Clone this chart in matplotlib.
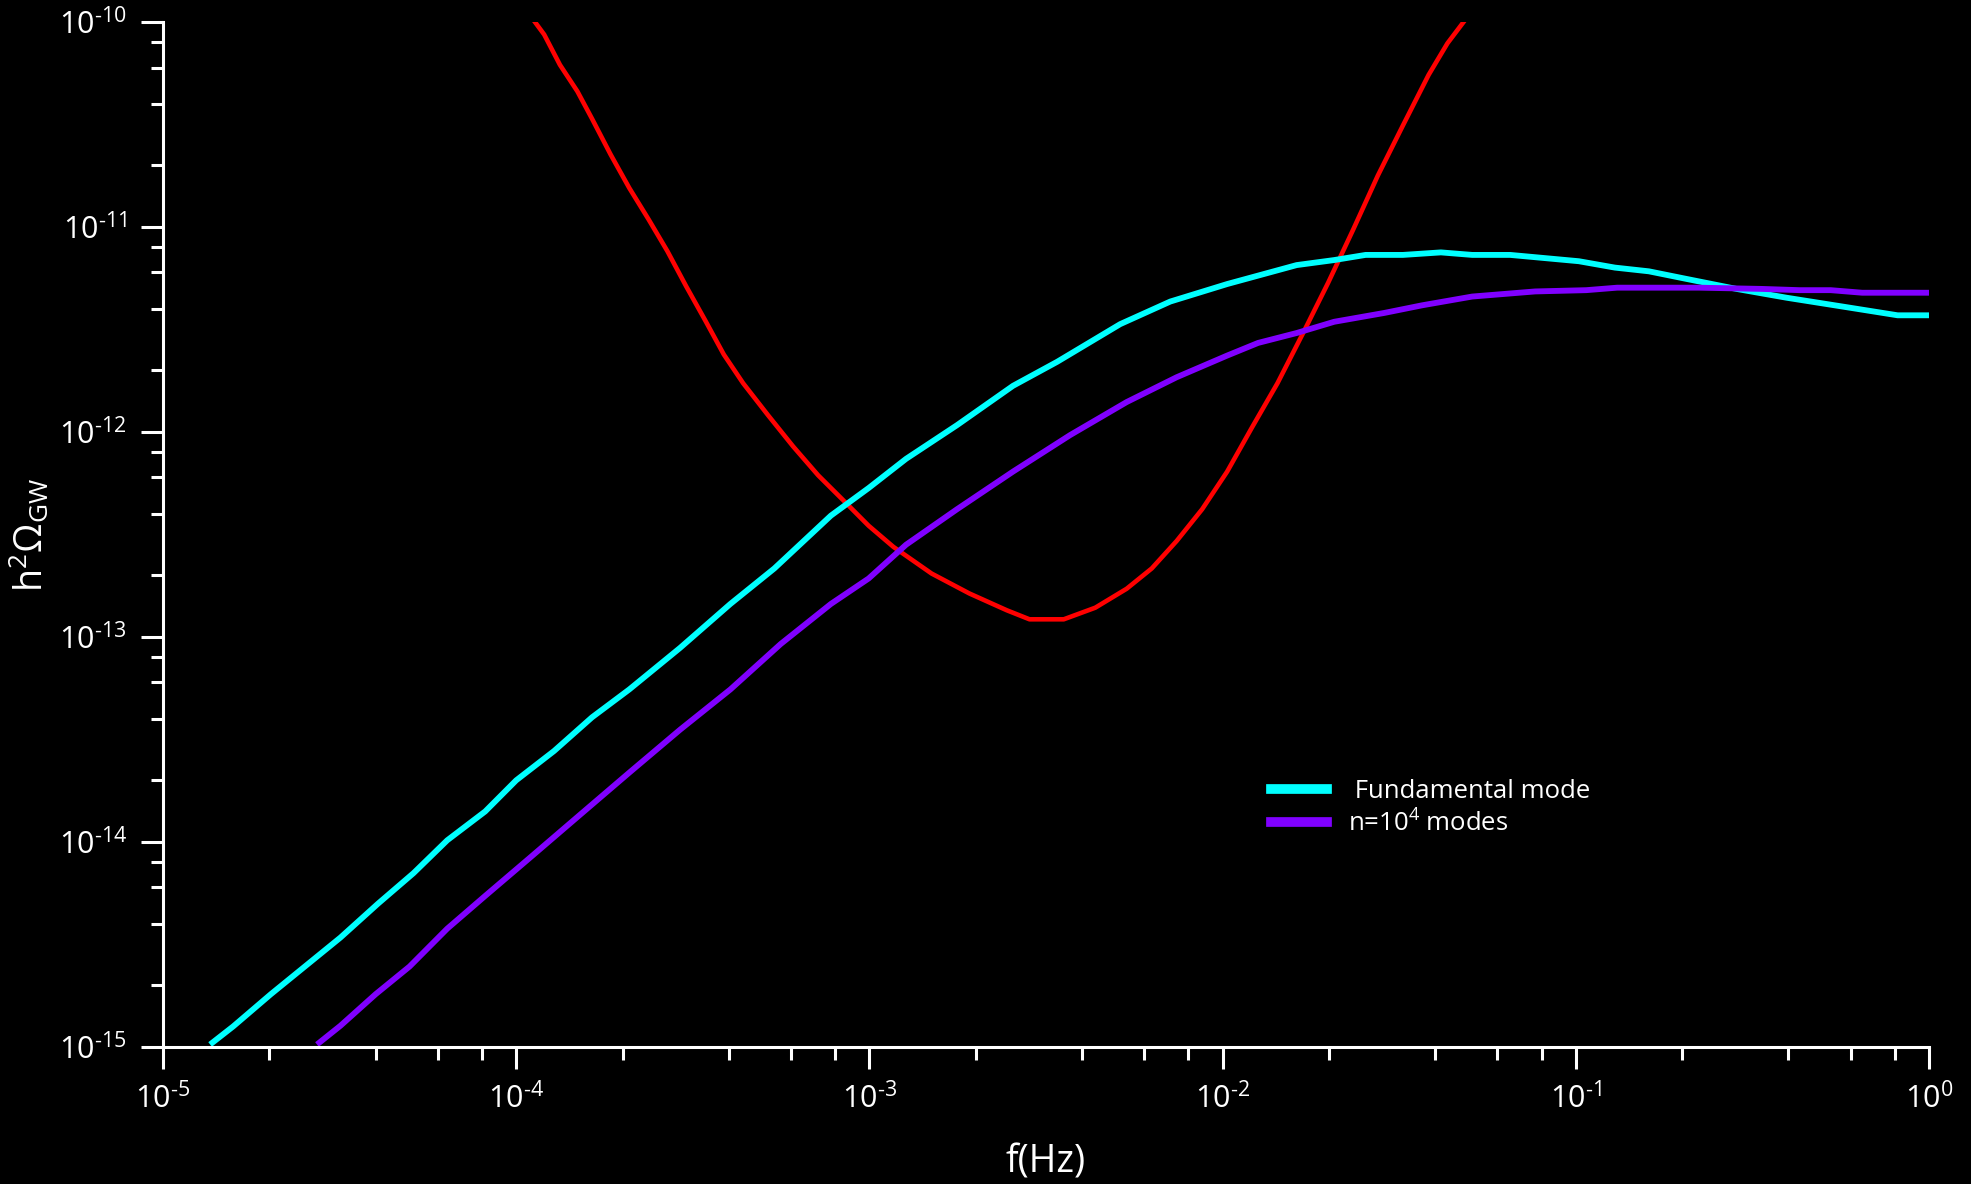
import numpy as np
import matplotlib
matplotlib.use("Agg")
import matplotlib.pyplot as plt
from matplotlib.ticker import LogLocator, FuncFormatter, NullFormatter

# Fundamental mode
f_fund = [1.38e-5, 1.58e-5, 2.02e-5, 3.18e-5, 4.06e-5, 5.12e-5, 6.38e-5, 8.17e-5, 1.0e-4,
          1.28e-4, 1.64e-4, 2.09e-4, 2.91e-4, 4.04e-4, 5.38e-4, 7.78e-4, 9.95e-4, 1.27e-3,
          1.77e-3, 2.55e-3, 3.40e-3, 5.13e-3, 7.11e-3, 1.03e-2, 1.62e-2, 2.07e-2, 2.54e-2,
          3.24e-2, 4.15e-2, 5.09e-2, 6.52e-2, 0.102, 0.129, 0.161, 0.206, 0.285, 0.395,
          0.597, 0.815, 1.0]
om_fund = [1.05e-15, 1.26e-15, 1.81e-15, 3.42e-15, 5.0e-15, 7.05e-15, 1.02e-14, 1.41e-14, 2.0e-14,
           2.78e-14, 4.06e-14, 5.55e-14, 8.85e-14, 1.45e-13, 2.16e-13, 3.91e-13, 5.33e-13, 7.40e-13,
           1.08e-12, 1.68e-12, 2.20e-12, 3.36e-12, 4.33e-12, 5.27e-12, 6.52e-12, 6.90e-12, 7.31e-12,
           7.31e-12, 7.52e-12, 7.31e-12, 7.31e-12, 6.81e-12, 6.34e-12, 6.08e-12, 5.58e-12, 4.99e-12,
           4.52e-12, 4.04e-12, 3.71e-12, 3.71e-12]

# n = 10^4 modes
f_modes = [2.77e-5, 3.18e-5, 4.0e-5, 4.99e-5, 6.38e-5, 8.17e-5, 1.09e-4, 1.51e-4, 2.09e-4,
           2.91e-4, 4.04e-4, 5.61e-4, 7.78e-4, 9.95e-4, 1.27e-3, 1.77e-3, 2.55e-3, 3.70e-3,
           5.35e-3, 7.41e-3, 1.03e-2, 1.26e-2, 1.62e-2, 2.07e-2, 2.87e-2, 3.67e-2, 5.09e-2,
           7.67e-2, 0.107, 0.131, 0.223, 0.336, 0.430, 0.527, 0.647, 1.0]
om_modes = [1.05e-15, 1.27e-15, 1.81e-15, 2.47e-15, 3.78e-15, 5.46e-15, 8.34e-15, 1.35e-14, 2.18e-14,
            3.53e-14, 5.55e-14, 9.25e-14, 1.45e-13, 1.93e-13, 2.82e-13, 4.20e-13, 6.41e-13, 9.66e-13,
            1.40e-12, 1.85e-12, 2.36e-12, 2.72e-12, 3.04e-12, 3.45e-12, 3.81e-12, 4.15e-12, 4.58e-12,
            4.85e-12, 4.92e-12, 5.06e-12, 5.06e-12, 4.99e-12, 4.92e-12, 4.92e-12, 4.78e-12, 4.78e-12]

# sensitivity curve (red)
f_sens = [1.13e-4, 1.20e-4, 1.33e-4, 1.49e-4, 1.64e-4, 1.85e-4, 2.09e-4, 2.37e-4, 2.68e-4,
          3.03e-4, 3.43e-4, 3.87e-4, 4.39e-4, 5.16e-4, 6.08e-4, 7.16e-4, 8.45e-4, 9.95e-4,
          1.17e-3, 1.50e-3, 1.92e-3, 2.45e-3, 2.84e-3, 3.55e-3, 4.36e-3, 5.35e-3, 6.30e-3,
          7.41e-3, 8.75e-3, 1.03e-2, 1.21e-2, 1.43e-2, 1.69e-2, 1.99e-2, 2.34e-2, 2.75e-2,
          3.24e-2, 3.83e-2, 4.33e-2, 4.81e-2]
om_sens = [1.0e-10, 8.69e-11, 6.18e-11, 4.59e-11, 3.37e-11, 2.26e-11, 1.55e-11, 1.09e-11, 7.62e-12,
           5.13e-12, 3.50e-12, 2.39e-12, 1.73e-12, 1.21e-12, 8.51e-13, 6.15e-13, 4.63e-13, 3.49e-13,
           2.75e-13, 2.04e-13, 1.63e-13, 1.35e-13, 1.22e-13, 1.22e-13, 1.39e-13, 1.72e-13, 2.16e-13,
           2.94e-13, 4.20e-13, 6.41e-13, 1.05e-12, 1.73e-12, 3.04e-12, 5.35e-12, 9.68e-12, 1.78e-11,
           3.13e-11, 5.52e-11, 7.87e-11, 1.0e-10]

plt.rcParams['font.family'] = ['Open Sans', 'DejaVu Sans']
plt.rcParams['mathtext.fontset'] = 'custom'
plt.rcParams['mathtext.rm'] = 'Open Sans'
plt.rcParams['mathtext.it'] = 'Open Sans'
plt.rcParams['mathtext.bf'] = 'Open Sans'

fig = plt.figure(figsize=(19.71, 11.84), dpi=100, facecolor='black')
ax = fig.add_axes([0.0827, 0.1157, 0.896, 0.8657])
ax.set_facecolor('black')

ax.plot(f_sens, om_sens, color='#ff0000', lw=3.3)
l1, = ax.plot(f_fund, om_fund, color='#00ffff', lw=4.2, label=' Fundamental mode')
l2, = ax.plot(f_modes, om_modes, color='#8000ff', lw=4.2, label=r'n=10$^4$ modes')

ax.set_xscale('log')
ax.set_yscale('log')
ax.set_xlim(1e-5, 1)
ax.set_ylim(1e-15, 1e-10)

for s in ['top', 'right']:
    ax.spines[s].set_visible(False)
for s in ['left', 'bottom']:
    ax.spines[s].set_color('white')
    ax.spines[s].set_linewidth(2.2)

def fmt(v, pos):
    e = int(round(np.log10(v)))
    if e < 0:
        return '$\\mathregular{10^{\u2010%d}}$' % (-e)
    return r'$\mathregular{10^{%d}}$' % e

for axis in [ax.xaxis, ax.yaxis]:
    axis.set_major_locator(LogLocator(base=10, numticks=20))
    axis.set_minor_locator(LogLocator(base=10, subs=[2, 4, 6, 8], numticks=20))
    axis.set_major_formatter(FuncFormatter(fmt))
    axis.set_minor_formatter(NullFormatter())

ax.tick_params(which='major', direction='out', length=16, width=2.2, color='white',
               labelcolor='white', labelsize=22, pad=10)
ax.tick_params(which='minor', direction='out', length=9, width=2.2, color='white')

ax.set_xlabel('f(Hz)', color='white', fontsize=27)
ax.set_ylabel(r'$\mathregular{h^2\Omega_{GW}}$', color='white', fontsize=27)
ax.xaxis.set_label_coords(0.5, -0.094)
ax.yaxis.set_label_coords(-0.063, 0.5)

leg = ax.legend(handles=[l1, l2], loc='upper left', bbox_to_anchor=(0.633, 0.362),
                bbox_transform=fig.transFigure, frameon=False, fontsize=18.5,
                handlelength=2.2, handletextpad=0.8, labelspacing=0.25, labelcolor='white')
for h in leg.legend_handles:
    h.set_linewidth(7)

fig.savefig('out.png', dpi=100, facecolor='black')
